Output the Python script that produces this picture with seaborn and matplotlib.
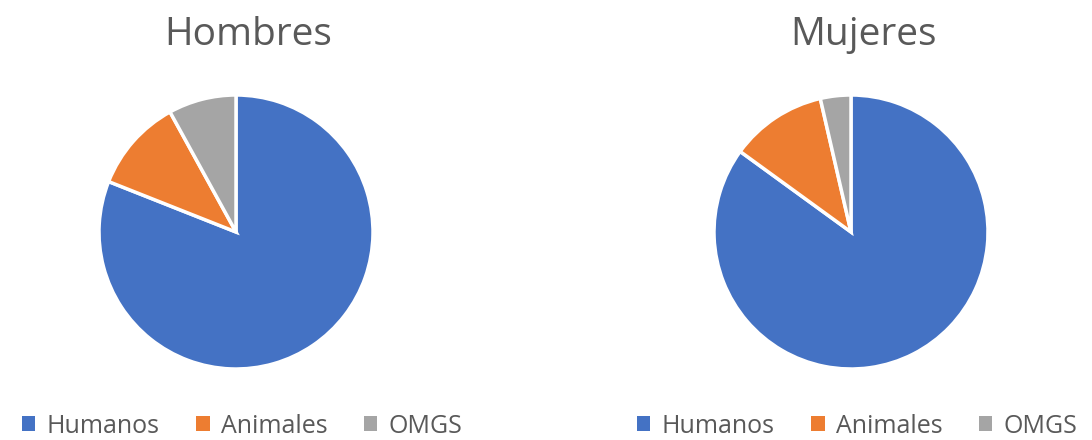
import matplotlib
matplotlib.use("Agg")
import matplotlib.pyplot as plt
import seaborn as sns

# Data
categories = ["Humanos", "Animales", "OMGS"]
hombres = [81, 11, 8]
mujeres = [85, 11.4, 3.6]
titles = ["Hombres", "Mujeres"]
colors = ["#4472C4", "#ED7D31", "#A5A5A5"]

sns.set_style("white")
plt.rcParams["font.family"] = ["Open Sans", "DejaVu Sans"]
text_color = "#595959"

fig = plt.figure(figsize=(10.92, 4.40), dpi=100)
W, H = 1092, 440

# pie centers in pixels (from top-left), radius in pixels
centers = [(236, 232), (851, 232)]
radius = 137

for (cx, cy), vals, title in zip(centers, [hombres, mujeres], titles):
    ax = fig.add_axes([(cx - radius) / W, (H - cy - radius) / H,
                       2 * radius / W, 2 * radius / H])
    wedges, _ = ax.pie(vals, colors=colors, startangle=90, counterclock=False,
                       radius=1, wedgeprops=dict(edgecolor="white", linewidth=2.5))
    ax.set_xlim(-1, 1)
    ax.set_ylim(-1, 1)
    ax.set_aspect("equal")
    ax.axis("off")
    fig.text((cx + 12) / W, 1 - 35 / H, title, ha="center", va="center",
             fontsize=28, color=text_color)
    leg = fig.legend(wedges, categories, loc="center",
                     bbox_to_anchor=((cx + 6) / W, 1 - 426 / H), ncol=3,
                     frameon=False, fontsize=18, handlelength=0.55,
                     handleheight=0.55, handletextpad=0.45, columnspacing=1.45)
    for t in leg.get_texts():
        t.set_color(text_color)
    for p in leg.get_patches():
        p.set_edgecolor("none")

fig.savefig("out.png", dpi=100)
